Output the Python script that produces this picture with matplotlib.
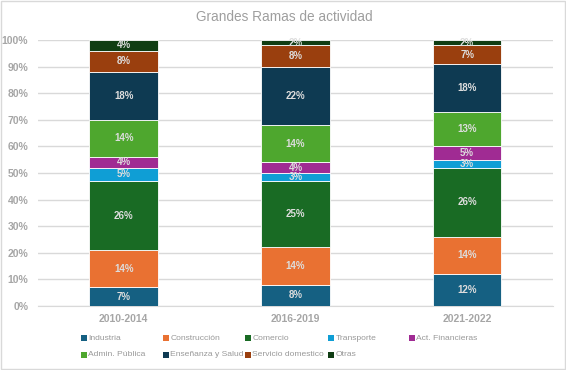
import numpy as np
import matplotlib.pyplot as plt

fam = ['Liberation Sans', 'DejaVu Sans']
plt.rcParams['font.family'] = fam

periodos = ['2010-2014', '2016-2019', '2021-2022']
ramas = ['Industria', 'Construcción', 'Comercio', 'Transporte', 'Act. Financieras',
         'Admin. Pública', 'Enseñanza y Salud', 'Servicio domestico', 'Otras']
colores = ['#156082', '#E97132', '#196B24', '#0F9ED5', '#A02B93',
           '#4EA72E', '#0E3A52', '#9A3F0E', '#103D13']

# porcentajes por rama (filas) y periodo (columnas)
industria = [7, 8, 12]
construccion = [14, 14, 14]
comercio = [26, 25, 26]
transporte = [5, 3, 3]
financieras = [4, 4, 5]
admin = [14, 14, 13]
ensenanza = [18, 22, 18]
servicio = [8, 8, 7]
otras = [4, 2, 2]
valores = [industria, construccion, comercio, transporte, financieras,
           admin, ensenanza, servicio, otras]

gris = '#A6A6A6'
W, H = 566, 370
fig = plt.figure(figsize=(W / 100, H / 100), dpi=100)
ax = fig.add_axes([0.067, 0.173, 0.91, 0.719])

x = np.arange(len(periodos))
base = np.zeros(len(periodos))
for nombre, vals, col in zip(ramas, valores, colores):
    vals = np.array(vals, dtype=float)
    ax.bar(x, vals, 0.4, bottom=base, color=col, edgecolor='white', linewidth=0.6, zorder=3)
    for xi, b, v in zip(x, base, vals):
        ax.text(xi, b + v / 2, f'{int(v)}%', ha='center', va='center', fontsize=7,
                fontweight='bold', color='#DDDDDD', zorder=4)
    base += vals

ax.set_xlim(-0.5, 2.5)
ax.set_ylim(0, 100)
ax.set_yticks(range(0, 101, 10))
ax.set_yticklabels([f'{t}%' for t in range(0, 101, 10)])
ax.set_xticks(x)
ax.set_xticklabels(periodos)
ax.tick_params(length=0, colors=gris, labelsize=7.5)
for lab in ax.get_xticklabels() + ax.get_yticklabels():
    lab.set_fontweight('bold')
ax.tick_params(axis='x', pad=6)
ax.tick_params(axis='y', pad=7)
ax.grid(axis='y', color='#D9D9D9', linewidth=1, zorder=0)
for s in ['left', 'right', 'top']:
    ax.spines[s].set_visible(False)
ax.spines['bottom'].set_color('#D9D9D9')

fig.text(0.503, 0.953, 'Grandes Ramas de actividad', ha='center', va='center',
         fontsize=9.8, color='#9E9E9E')

# leyenda manual, por filas como en Excel
col_x = [81, 163, 245, 328, 409]
fila_y = [338, 355]
for i, (nombre, col) in enumerate(zip(ramas, colores)):
    px = col_x[i % 5]
    py = fila_y[i // 5]
    fig.patches.append(plt.Rectangle((px / W, 1 - (py + 3) / H), 6 / W, 6 / H,
                                     transform=fig.transFigure, facecolor=col,
                                     edgecolor='none'))
    fig.text((px + 7.5) / W, 1 - py / H, nombre, ha='left', va='center', fontsize=6.1,
             color='#999999')

fig.patches.append(plt.Rectangle((0.002, 0.003), 0.996, 0.994, transform=fig.transFigure,
                                 fill=False, edgecolor='#D9D9D9', linewidth=1))
fig.savefig('out.png', dpi=100)
